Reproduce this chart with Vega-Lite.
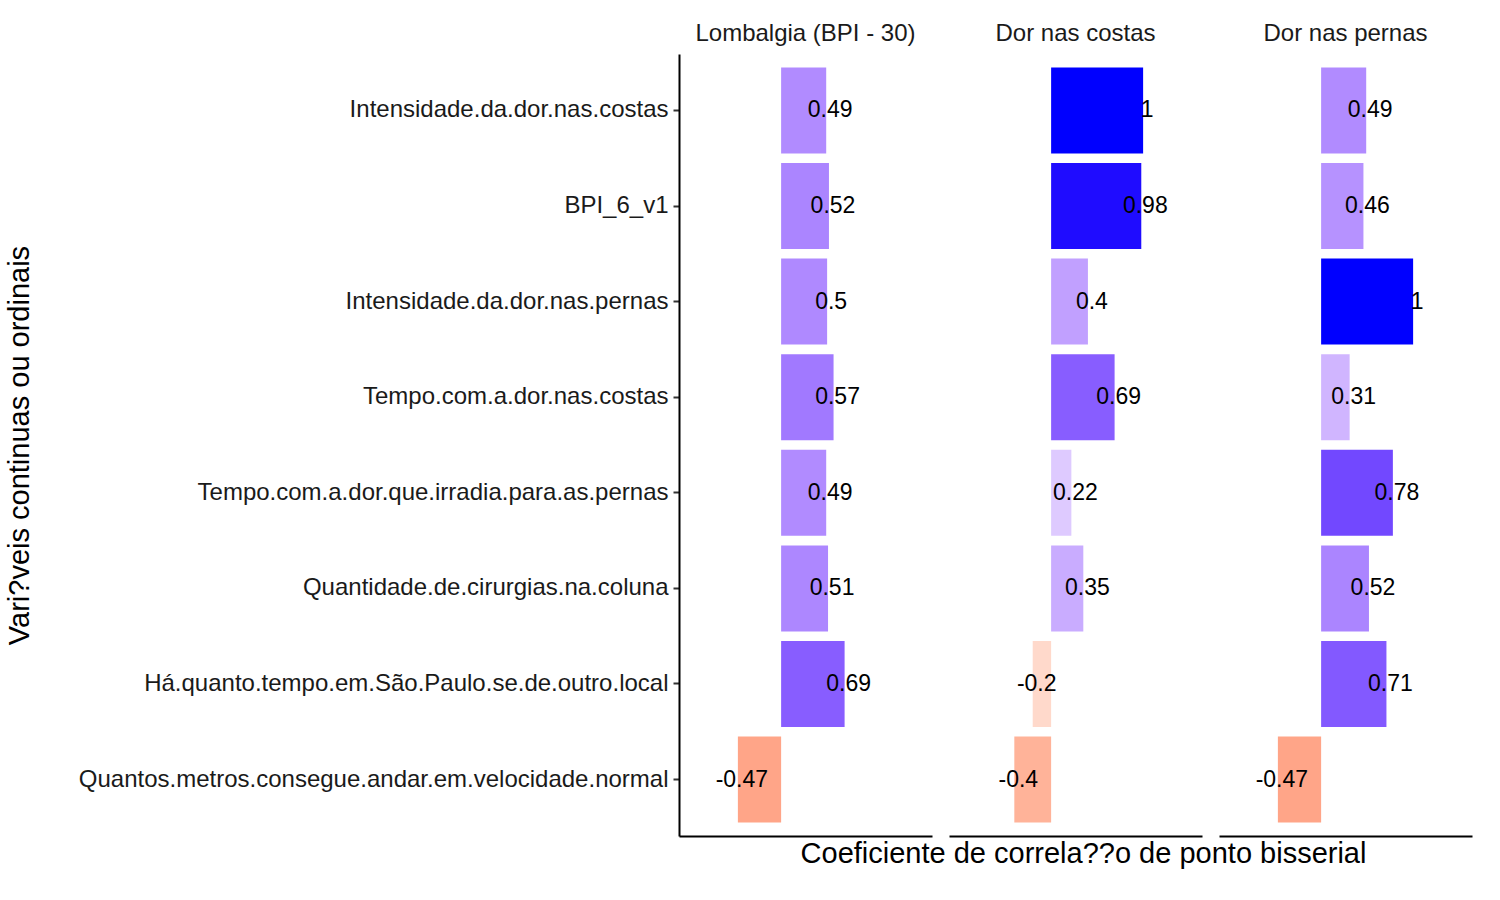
{
  "$schema": "https://vega.github.io/schema/vega-lite/v6.json",
  "padding": {"left": 5, "top": 22, "right": 5, "bottom": 5},
  "background": "white",
  "data": {"values": [
    {"var": "Intensidade.da.dor.nas.costas", "panel": "Lombalgia (BPI - 30)", "value": 0.49},
    {"var": "BPI_6_v1", "panel": "Lombalgia (BPI - 30)", "value": 0.52},
    {"var": "Intensidade.da.dor.nas.pernas", "panel": "Lombalgia (BPI - 30)", "value": 0.5},
    {"var": "Tempo.com.a.dor.nas.costas", "panel": "Lombalgia (BPI - 30)", "value": 0.57},
    {"var": "Tempo.com.a.dor.que.irradia.para.as.pernas", "panel": "Lombalgia (BPI - 30)", "value": 0.49},
    {"var": "Quantidade.de.cirurgias.na.coluna", "panel": "Lombalgia (BPI - 30)", "value": 0.51},
    {"var": "Há.quanto.tempo.em.São.Paulo.se.de.outro.local", "panel": "Lombalgia (BPI - 30)", "value": 0.69},
    {"var": "Quantos.metros.consegue.andar.em.velocidade.normal", "panel": "Lombalgia (BPI - 30)", "value": -0.47},
    {"var": "Intensidade.da.dor.nas.costas", "panel": "Dor nas costas", "value": 1},
    {"var": "BPI_6_v1", "panel": "Dor nas costas", "value": 0.98},
    {"var": "Intensidade.da.dor.nas.pernas", "panel": "Dor nas costas", "value": 0.4},
    {"var": "Tempo.com.a.dor.nas.costas", "panel": "Dor nas costas", "value": 0.69},
    {"var": "Tempo.com.a.dor.que.irradia.para.as.pernas", "panel": "Dor nas costas", "value": 0.22},
    {"var": "Quantidade.de.cirurgias.na.coluna", "panel": "Dor nas costas", "value": 0.35},
    {"var": "Há.quanto.tempo.em.São.Paulo.se.de.outro.local", "panel": "Dor nas costas", "value": -0.2},
    {"var": "Quantos.metros.consegue.andar.em.velocidade.normal", "panel": "Dor nas costas", "value": -0.4},
    {"var": "Intensidade.da.dor.nas.costas", "panel": "Dor nas pernas", "value": 0.49},
    {"var": "BPI_6_v1", "panel": "Dor nas pernas", "value": 0.46},
    {"var": "Intensidade.da.dor.nas.pernas", "panel": "Dor nas pernas", "value": 1},
    {"var": "Tempo.com.a.dor.nas.costas", "panel": "Dor nas pernas", "value": 0.31},
    {"var": "Tempo.com.a.dor.que.irradia.para.as.pernas", "panel": "Dor nas pernas", "value": 0.78},
    {"var": "Quantidade.de.cirurgias.na.coluna", "panel": "Dor nas pernas", "value": 0.52},
    {"var": "Há.quanto.tempo.em.São.Paulo.se.de.outro.local", "panel": "Dor nas pernas", "value": 0.71},
    {"var": "Quantos.metros.consegue.andar.em.velocidade.normal", "panel": "Dor nas pernas", "value": -0.47}
  ]},
  "title": {
    "text": "Coeficiente de correla??o de ponto bisserial",
    "orient": "bottom",
    "anchor": "middle",
    "font": "Liberation Sans",
    "fontSize": 29,
    "fontWeight": "normal",
    "color": "black",
    "offset": 4,
    "dx": 345
  },
  "facet": {
    "column": {
      "field": "panel",
      "type": "nominal",
      "sort": ["Lombalgia (BPI - 30)", "Dor nas costas", "Dor nas pernas"],
      "title": null,
      "header": {"labelFont": "Liberation Sans", "labelFontSize": 24, "labelColor": "#1a1a1a", "labelPadding": 8}
    }
  },
  "spacing": 17,
  "spec": {
    "width": 253,
    "height": 782,
    "layer": [
      {
        "mark": {"type": "bar"},
        "encoding": {
          "y": {
            "field": "var",
            "type": "nominal",
            "sort": null,
            "title": "Vari?veis continuas ou ordinais",
            "scale": {"paddingInner": 0.1, "paddingOuter": 0.14},
            "axis": {"labelFont": "Liberation Sans", "labelFontSize": 24, "labelColor": "#1a1a1a", "labelLimit": 900, "titleFont": "Liberation Sans", "titleFontSize": 29, "titleFontWeight": "normal", "titleColor": "black", "titleX": -660, "titleY": 391, "titleAlign": "center", "titleBaseline": "middle", "domainColor": "black", "domainWidth": 2, "tickColor": "#333", "tickWidth": 2, "tickSize": 6, "labelPadding": 5}
          },
          "x": {
            "field": "value",
            "type": "quantitative",
            "title": null,
            "scale": {"domain": [-1.11, 1.64], "nice": false, "zero": false},
            "axis": {"labels": false, "ticks": false, "grid": false, "domainColor": "black", "domainWidth": 2}
          },
          "color": {
            "field": "value",
            "type": "quantitative",
            "legend": null,
            "scale": {"domain": [-1, 0, 1], "range": ["red", "white", "blue"], "interpolate": "lab"}
          }
        }
      },
      {
        "mark": {"type": "text", "font": "Liberation Sans", "fontSize": 23, "color": "black", "align": "center", "dx": 4},
        "encoding": {
          "y": {"field": "var", "type": "nominal", "sort": null},
          "x": {"field": "value", "type": "quantitative"},
          "text": {"field": "value", "type": "quantitative"}
        }
      }
    ]
  },
  "config": {
    "view": {"stroke": null},
    "locale": {"number": {"decimal": ".", "thousands": ",", "grouping": [3], "currency": ["$", ""], "minus": "-"}}
  }
}
